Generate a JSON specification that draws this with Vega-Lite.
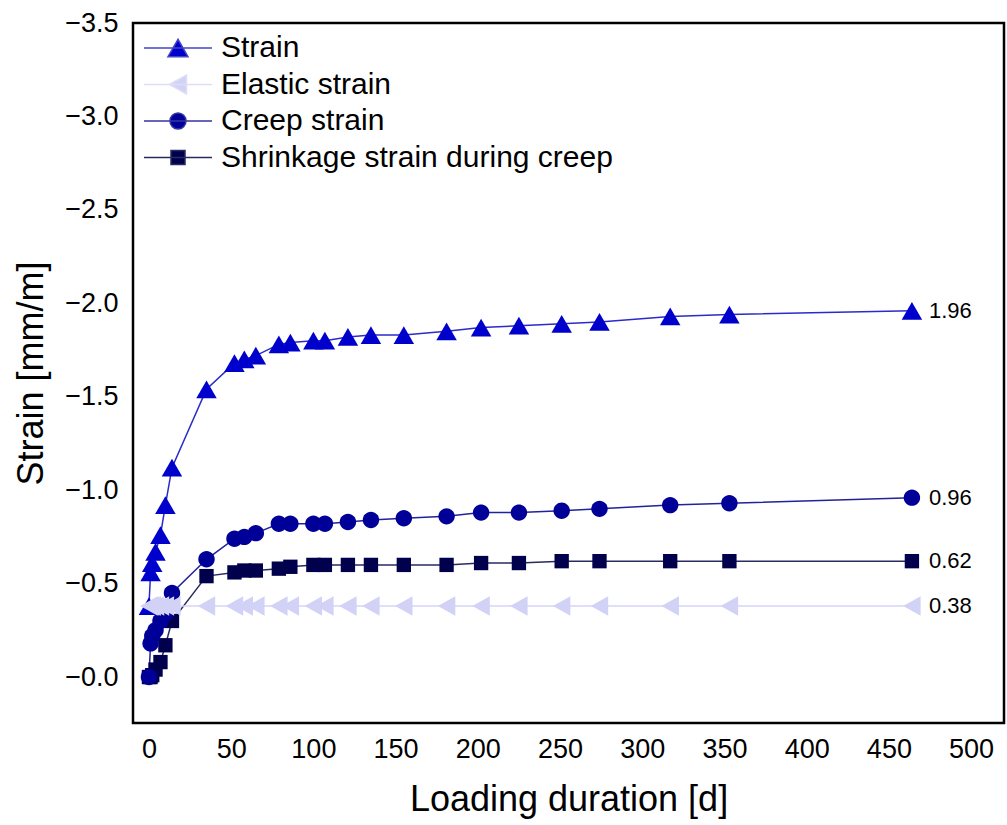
{
  "$schema": "https://vega.github.io/schema/vega-lite/v6.json",
  "width": 871,
  "height": 700,
  "autosize": {"type": "none"},
  "padding": {"left": 133, "top": 23, "right": 3, "bottom": 102},
  "background": "white",
  "config": {
    "font": "Liberation Sans",
    "view": {"stroke": "#000000", "strokeWidth": 2.5},
    "axis": {
      "grid": false, "ticks": false, "domain": false,
      "labelFont": "Liberation Sans", "labelFontSize": 27, "labelColor": "#000000",
      "titleFont": "Liberation Sans", "titleFontSize": 36, "titleFontWeight": "normal", "titleColor": "#000000"
    }
  },
  "datasets": {
    "main": [
      {"series": "Shrinkage strain during creep", "day": 0, "strain": 0.0},
      {"series": "Shrinkage strain during creep", "day": 1, "strain": 0.0},
      {"series": "Shrinkage strain during creep", "day": 2, "strain": -0.01},
      {"series": "Shrinkage strain during creep", "day": 4, "strain": -0.04},
      {"series": "Shrinkage strain during creep", "day": 7, "strain": -0.08},
      {"series": "Shrinkage strain during creep", "day": 10, "strain": -0.17},
      {"series": "Shrinkage strain during creep", "day": 14, "strain": -0.30},
      {"series": "Shrinkage strain during creep", "day": 35, "strain": -0.54},
      {"series": "Shrinkage strain during creep", "day": 52, "strain": -0.56},
      {"series": "Shrinkage strain during creep", "day": 58, "strain": -0.57},
      {"series": "Shrinkage strain during creep", "day": 65, "strain": -0.57},
      {"series": "Shrinkage strain during creep", "day": 79, "strain": -0.58},
      {"series": "Shrinkage strain during creep", "day": 86, "strain": -0.59},
      {"series": "Shrinkage strain during creep", "day": 100, "strain": -0.60},
      {"series": "Shrinkage strain during creep", "day": 107, "strain": -0.60},
      {"series": "Shrinkage strain during creep", "day": 121, "strain": -0.60},
      {"series": "Shrinkage strain during creep", "day": 135, "strain": -0.60},
      {"series": "Shrinkage strain during creep", "day": 155, "strain": -0.60},
      {"series": "Shrinkage strain during creep", "day": 181, "strain": -0.60},
      {"series": "Shrinkage strain during creep", "day": 202, "strain": -0.61},
      {"series": "Shrinkage strain during creep", "day": 225, "strain": -0.61},
      {"series": "Shrinkage strain during creep", "day": 251, "strain": -0.62},
      {"series": "Shrinkage strain during creep", "day": 274, "strain": -0.62},
      {"series": "Shrinkage strain during creep", "day": 317, "strain": -0.62},
      {"series": "Shrinkage strain during creep", "day": 353, "strain": -0.62},
      {"series": "Shrinkage strain during creep", "day": 464, "strain": -0.62},

      {"series": "Strain", "day": 0, "strain": -0.38},
      {"series": "Strain", "day": 1, "strain": -0.56},
      {"series": "Strain", "day": 2, "strain": -0.61},
      {"series": "Strain", "day": 4, "strain": -0.67},
      {"series": "Strain", "day": 7, "strain": -0.76},
      {"series": "Strain", "day": 10, "strain": -0.92},
      {"series": "Strain", "day": 14, "strain": -1.12},
      {"series": "Strain", "day": 35, "strain": -1.54},
      {"series": "Strain", "day": 52, "strain": -1.68},
      {"series": "Strain", "day": 58, "strain": -1.70},
      {"series": "Strain", "day": 65, "strain": -1.72},
      {"series": "Strain", "day": 79, "strain": -1.78},
      {"series": "Strain", "day": 86, "strain": -1.79},
      {"series": "Strain", "day": 100, "strain": -1.80},
      {"series": "Strain", "day": 107, "strain": -1.80},
      {"series": "Strain", "day": 121, "strain": -1.82},
      {"series": "Strain", "day": 135, "strain": -1.83},
      {"series": "Strain", "day": 155, "strain": -1.83},
      {"series": "Strain", "day": 181, "strain": -1.85},
      {"series": "Strain", "day": 202, "strain": -1.87},
      {"series": "Strain", "day": 225, "strain": -1.88},
      {"series": "Strain", "day": 251, "strain": -1.89},
      {"series": "Strain", "day": 274, "strain": -1.90},
      {"series": "Strain", "day": 317, "strain": -1.93},
      {"series": "Strain", "day": 353, "strain": -1.94},
      {"series": "Strain", "day": 464, "strain": -1.96},

      {"series": "Creep strain", "day": 0, "strain": 0.0},
      {"series": "Creep strain", "day": 1, "strain": -0.18},
      {"series": "Creep strain", "day": 2, "strain": -0.22},
      {"series": "Creep strain", "day": 4, "strain": -0.25},
      {"series": "Creep strain", "day": 7, "strain": -0.30},
      {"series": "Creep strain", "day": 10, "strain": -0.34},
      {"series": "Creep strain", "day": 14, "strain": -0.45},
      {"series": "Creep strain", "day": 35, "strain": -0.63},
      {"series": "Creep strain", "day": 52, "strain": -0.74},
      {"series": "Creep strain", "day": 58, "strain": -0.75},
      {"series": "Creep strain", "day": 65, "strain": -0.77},
      {"series": "Creep strain", "day": 79, "strain": -0.82},
      {"series": "Creep strain", "day": 86, "strain": -0.82},
      {"series": "Creep strain", "day": 100, "strain": -0.82},
      {"series": "Creep strain", "day": 107, "strain": -0.82},
      {"series": "Creep strain", "day": 121, "strain": -0.83},
      {"series": "Creep strain", "day": 135, "strain": -0.84},
      {"series": "Creep strain", "day": 155, "strain": -0.85},
      {"series": "Creep strain", "day": 181, "strain": -0.86},
      {"series": "Creep strain", "day": 202, "strain": -0.88},
      {"series": "Creep strain", "day": 225, "strain": -0.88},
      {"series": "Creep strain", "day": 251, "strain": -0.89},
      {"series": "Creep strain", "day": 274, "strain": -0.90},
      {"series": "Creep strain", "day": 317, "strain": -0.92},
      {"series": "Creep strain", "day": 353, "strain": -0.93},
      {"series": "Creep strain", "day": 464, "strain": -0.96},

      {"series": "Elastic strain", "day": 0, "strain": -0.38},
      {"series": "Elastic strain", "day": 1, "strain": -0.38},
      {"series": "Elastic strain", "day": 2, "strain": -0.38},
      {"series": "Elastic strain", "day": 4, "strain": -0.38},
      {"series": "Elastic strain", "day": 7, "strain": -0.38},
      {"series": "Elastic strain", "day": 10, "strain": -0.38},
      {"series": "Elastic strain", "day": 14, "strain": -0.38},
      {"series": "Elastic strain", "day": 35, "strain": -0.38},
      {"series": "Elastic strain", "day": 52, "strain": -0.38},
      {"series": "Elastic strain", "day": 58, "strain": -0.38},
      {"series": "Elastic strain", "day": 65, "strain": -0.38},
      {"series": "Elastic strain", "day": 79, "strain": -0.38},
      {"series": "Elastic strain", "day": 86, "strain": -0.38},
      {"series": "Elastic strain", "day": 100, "strain": -0.38},
      {"series": "Elastic strain", "day": 107, "strain": -0.38},
      {"series": "Elastic strain", "day": 121, "strain": -0.38},
      {"series": "Elastic strain", "day": 135, "strain": -0.38},
      {"series": "Elastic strain", "day": 155, "strain": -0.38},
      {"series": "Elastic strain", "day": 181, "strain": -0.38},
      {"series": "Elastic strain", "day": 202, "strain": -0.38},
      {"series": "Elastic strain", "day": 225, "strain": -0.38},
      {"series": "Elastic strain", "day": 251, "strain": -0.38},
      {"series": "Elastic strain", "day": 274, "strain": -0.38},
      {"series": "Elastic strain", "day": 317, "strain": -0.38},
      {"series": "Elastic strain", "day": 353, "strain": -0.38},
      {"series": "Elastic strain", "day": 464, "strain": -0.38}
    ],
    "ends": [
      {"series": "Strain", "day": 464, "strain": -1.96, "label": "1.96"},
      {"series": "Creep strain", "day": 464, "strain": -0.96, "label": "0.96"},
      {"series": "Shrinkage strain during creep", "day": 464, "strain": -0.62, "label": "0.62"},
      {"series": "Elastic strain", "day": 464, "strain": -0.38, "label": "0.38"}
    ]
  },
  "encoding": {
    "x": {
      "field": "day", "type": "quantitative",
      "scale": {"domain": [-9.7, 520], "nice": false, "zero": false},
      "axis": {"title": "Loading duration [d]", "values": [0, 50, 100, 150, 200, 250, 300, 350, 400, 450, 500], "labelPadding": 13, "titlePadding": 20}
    },
    "y": {
      "field": "strain", "type": "quantitative",
      "scale": {"domain": [-3.5, 0.246], "nice": false, "zero": false, "reverse": true},
      "axis": {"title": "Strain [mm/m]", "values": [-3.5, -3, -2.5, -2, -1.5, -1, -0.5, 0], "labelExpr": "datum.value == 0 ? '\u22120.0' : format(datum.value, '.1f')", "labelPadding": 15, "titlePadding": 14}
    }
  },
  "layer": [
    {
      "data": {"name": "main"},
      "mark": {"type": "line", "strokeWidth": 1.5},
      "encoding": {
        "stroke": {
          "field": "series", "type": "nominal",
          "scale": {"domain": ["Strain", "Elastic strain", "Creep strain", "Shrinkage strain during creep", "(none)"], "range": ["#2B2BC8", "#D5D5F7", "#22229A", "#2A2A62", "#000000"]},
          "legend": null
        }
      }
    },
    {
      "data": {"name": "main"},
      "mark": {"type": "point", "filled": true, "opacity": 1, "size": 420},
      "encoding": {
        "shape": {
          "field": "series", "type": "nominal",
          "scale": {"domain": ["Strain", "Elastic strain", "Creep strain", "Shrinkage strain during creep", "(unused)"],
                    "range": [
                      "M0,-0.866L-1,0.866L1,0.866Z",
                      "M-0.85,0L0.85,-0.95L0.85,0.95Z",
                      "M-0.8,0C-0.8,-0.442,-0.442,-0.8,0,-0.8C0.442,-0.8,0.8,-0.442,0.8,0C0.8,0.442,0.442,0.8,0,0.8C-0.442,0.8,-0.8,0.442,-0.8,0Z",
                      "M-0.7,-0.7H0.7V0.7H-0.7Z",
                      "circle"
                    ]},
          "legend": null
        },
        "fill": {
          "field": "series", "type": "nominal",
          "scale": {"domain": ["Strain", "Elastic strain", "Creep strain", "Shrinkage strain during creep"], "range": ["#0000CD", "#D2D2F6", "#000099", "#00004D"]},
          "legend": {
            "title": null,
            "orient": "none",
            "legendX": 30,
            "legendY": 10,
            "padding": 0,
            "symbolSize": 400,
            "symbolType": {"expr": "datum.value === 'Strain' ? 'M-3.4,0H3.4M0,-0.866L-1,0.866L1,0.866Z' : datum.value === 'Elastic strain' ? 'M-3.4,0H3.4M-0.85,0L0.85,-0.95L0.85,0.95Z' : datum.value === 'Creep strain' ? 'M-3.4,0H3.4M-0.8,0C-0.8,-0.442,-0.442,-0.8,0,-0.8C0.442,-0.8,0.8,-0.442,0.8,0C0.8,0.442,0.442,0.8,0,0.8C-0.442,0.8,-0.8,0.442,-0.8,0Z' : 'M-3.4,0H3.4M-0.7,-0.7H0.7V0.7H-0.7Z'"},
            "symbolStrokeColor": {"expr": "datum.value === 'Strain' ? '#4545C8' : datum.value === 'Elastic strain' ? '#DDDDF8' : datum.value === 'Creep strain' ? '#3535A5' : '#2A2A62'"},
            "symbolStrokeWidth": 1.5,
            "symbolOpacity": 1,
            "labelFont": "Liberation Sans",
            "labelFontSize": 30,
            "labelColor": "#000000",
            "labelOffset": 28,
            "rowPadding": 6.5,
            "labelLimit": 600
          }
        }
      }
    },
    {
      "data": {"name": "ends"},
      "mark": {"type": "text", "align": "left", "baseline": "middle", "dx": 17, "fontSize": 22, "font": "Liberation Sans", "color": "#000000"},
      "encoding": {
        "text": {"field": "label", "type": "nominal"}
      }
    }
  ]
}
